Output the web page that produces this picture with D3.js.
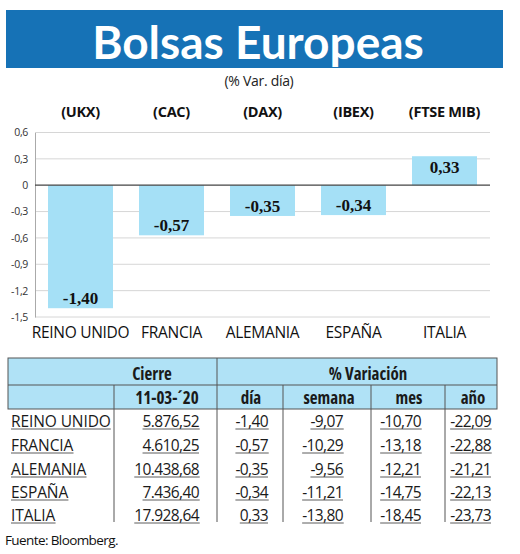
<!DOCTYPE html>
<html>
<head>
<meta charset="utf-8">
<script src="https://cdn.jsdelivr.net/npm/d3@7"></script>
<style>
  body { margin: 0; background: #fff; }
  svg { display: block; font-family: "Open Sans", sans-serif; }
  .cond { font-stretch: 80%; }
</style>
</head>
<body>
<svg id="chart" width="520" height="554"></svg>
<script>
// chart data
const countries = ['REINO UNIDO', 'FRANCIA', 'ALEMANIA', 'ESPAÑA', 'ITALIA'];
const tickers = ['(UKX)', '(CAC)', '(DAX)', '(IBEX)', '(FTSE MIB)'];
const dayChange = [-1.40, -0.57, -0.35, -0.34, 0.33];
const yTicks = [0.6, 0.3, 0, -0.3, -0.6, -0.9, -1.2, -1.5];

// table data
const closeValues = ['5.876,52', '4.610,25', '10.438,68', '7.436,40', '17.928,64'];
const dayValues = ['-1,40', '-0,57', '-0,35', '-0,34', '0,33'];
const weekValues = ['-9,07', '-10,29', '-9,56', '-11,21', '-13,80'];
const monthValues = ['-10,70', '-13,18', '-12,21', '-14,75', '-18,45'];
const yearValues = ['-22,09', '-22,88', '-21,21', '-22,13', '-23,73'];
const headerCols = ['11-03-´20', 'día', 'semana', 'mes', 'año'];

const svg = d3.select('#chart');
const es = d3.formatLocale({ decimal: ',', thousands: '.', grouping: [3], currency: ['', '€'], minus: '-' });
const comma = es.format('.2f');
const tickFmt = v => v === 0 ? '0' : es.format('.1f')(v);

// title
svg.append('rect')
    .attr('x', 6).attr('y', 10)
    .attr('width', 497).attr('height', 58)
    .attr('fill', '#1672b6');
svg.append('text')
    .attr('x', 258).attr('y', 59)
    .attr('text-anchor', 'middle')
    .attr('fill', '#fff')
    .attr('font-size', 46)
    .attr('font-weight', 'bold')
    .attr('font-family', 'Lato, sans-serif')
    .text('Bolsas Europeas');
svg.append('text')
    .attr('x', 259).attr('y', 86)
    .attr('text-anchor', 'middle')
    .attr('font-size', 14)
    .attr('letter-spacing', -0.3)
    .attr('fill', '#222')
    .text('(% Var. día)');

// scales
const x = d3.scaleBand()
    .domain(countries)
    .range([35, 490])
    .paddingInner(0.286)
    .paddingOuter(0.143);
const y = d3.scaleLinear()
    .domain([-1.5, 0.6])
    .range([317, 132.5]);

// gridlines
svg.append('g')
    .selectAll('line')
    .data(yTicks.filter(d => d !== 0))
  .join('line')
    .attr('x1', 35).attr('x2', 490)
    .attr('y1', d => y(d)).attr('y2', d => y(d))
    .attr('stroke', '#d6d6d6')
    .attr('stroke-width', 1);

// y axis
const yAxis = svg.append('g')
    .attr('transform', 'translate(35,0)')
    .call(d3.axisLeft(y).tickValues(yTicks).tickFormat(tickFmt).tickSize(0).tickPadding(7));
yAxis.select('.domain').attr('stroke', '#aaa');
yAxis.selectAll('text')
    .attr('font-family', '"Open Sans", sans-serif')
    .attr('font-size', 10.5)
    .attr('letter-spacing', -0.3)
    .attr('fill', '#333');

// bars
svg.append('g')
    .selectAll('rect')
    .data(dayChange)
  .join('rect')
    .attr('x', (d, i) => x(countries[i]))
    .attr('width', x.bandwidth())
    .attr('y', d => y(Math.max(0, d)))
    .attr('height', d => Math.abs(y(d) - y(0)))
    .attr('fill', '#a5e0f6');

// zero line
svg.append('line')
    .attr('x1', 35).attr('x2', 490)
    .attr('y1', y(0)).attr('y2', y(0))
    .attr('stroke', '#444')
    .attr('stroke-width', 1.3);

// bar value labels
svg.append('g')
    .selectAll('text')
    .data(dayChange)
  .join('text')
    .attr('x', (d, i) => x(countries[i]) + x.bandwidth() / 2)
    .attr('y', d => d < 0 ? y(d) - 4 : y(d) + 17)
    .attr('text-anchor', 'middle')
    .attr('font-family', '"Liberation Serif", serif')
    .attr('font-weight', 'bold')
    .attr('font-size', 17)
    .attr('fill', '#111')
    .text(d => comma(d));

// tickers above
svg.append('g')
    .selectAll('text')
    .data(tickers)
  .join('text')
    .attr('x', (d, i) => x(countries[i]) + x.bandwidth() / 2)
    .attr('y', 117)
    .attr('text-anchor', 'middle')
    .attr('font-weight', 'bold')
    .attr('font-size', 14.5)
    .attr('letter-spacing', -0.3)
    .attr('fill', '#111')
    .text(d => d);

// category labels
svg.append('g')
    .selectAll('text')
    .data(countries)
  .join('text')
    .attr('x', d => x(d) + x.bandwidth() / 2)
    .attr('y', 338)
    .attr('text-anchor', 'middle')
    .attr('font-size', 15.5)
    .attr('letter-spacing', -0.3)
    .attr('fill', '#111')
    .text(d => d);

// table
const colLines = [114, 217, 283, 371, 445];
const table = svg.append('g');

table.append('rect')
    .attr('x', 8).attr('y', 358)
    .attr('width', 489).attr('height', 51)
    .attr('fill', '#b0e2f6')
    .attr('stroke', '#555')
    .attr('stroke-width', 1);
table.append('line')
    .attr('x1', 8).attr('x2', 497)
    .attr('y1', 385).attr('y2', 385)
    .attr('stroke', '#555');
table.append('line')
    .attr('x1', 217).attr('x2', 217)
    .attr('y1', 358).attr('y2', 522)
    .attr('stroke', '#555');
table.selectAll('.vline')
    .data(colLines.filter(c => c !== 217))
  .join('line')
    .attr('class', 'vline')
    .attr('x1', d => d).attr('x2', d => d)
    .attr('y1', 385).attr('y2', 522)
    .attr('stroke', '#555');

const headStyle = sel => sel
    .attr('class', 'cond')
    .attr('font-weight', 'bold')
    .attr('font-size', 17)
    .attr('fill', '#1a1a1a')
    .attr('text-anchor', 'middle');
table.append('text').attr('x', 152).attr('y', 380).call(headStyle).text('Cierre');
table.append('text').attr('x', 368).attr('y', 380).call(headStyle).text('% Variación');
const headX = [167, 251, 329, 409, 473];
table.selectAll('.hcol')
    .data(headerCols)
  .join('text')
    .attr('x', (d, i) => headX[i])
    .attr('y', 404)
    .call(headStyle)
    .text(d => d);

// data cells
const columns = [
  { values: countries, x: 11, anchor: 'start', ls: -0.1 },
  { values: closeValues, x: 199, anchor: 'end', ls: -0.6 },
  { values: dayValues, x: 268, anchor: 'end', ls: -0.6 },
  { values: weekValues, x: 343, anchor: 'end', ls: -0.6 },
  { values: monthValues, x: 421, anchor: 'end', ls: -0.6 },
  { values: yearValues, x: 491, anchor: 'end', ls: -0.6 }
];
const baseY = [427, 451, 475, 498, 521];

columns.forEach(col => {
  col.values.forEach((v, i) => {
    const t = table.append('text')
        .attr('x', col.x)
        .attr('y', baseY[i])
        .attr('text-anchor', col.anchor)
        .attr('font-size', 15.5)
        .attr('letter-spacing', col.ls)
        .attr('fill', '#1a1a1a')
        .text(v);
    const bb = t.node().getBBox();
    table.append('line')
        .attr('x1', bb.x).attr('x2', bb.x + bb.width)
        .attr('y1', baseY[i] + 2).attr('y2', baseY[i] + 2)
        .attr('stroke', '#333')
        .attr('stroke-width', 0.8);
  });
});

svg.append('text')
    .attr('x', 5).attr('y', 545)
    .attr('font-size', 13.5)
    .attr('letter-spacing', -0.6)
    .attr('fill', '#111')
    .text('Fuente: Bloomberg.');
</script>
</body>
</html>
